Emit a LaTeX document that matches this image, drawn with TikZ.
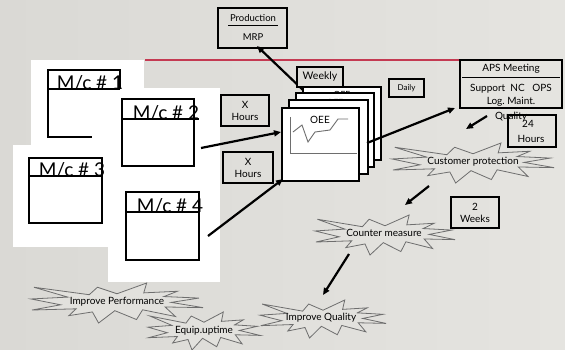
\documentclass[tikz,border=0pt]{standalone}
\usepackage{fontspec}
\setmainfont{Lato}
\usetikzlibrary{arrows.meta}
\definecolor{bgL}{RGB}{218,217,213}
\definecolor{bgR}{RGB}{229,228,224}
\definecolor{redline}{RGB}{196,58,82}
\definecolor{burstfill}{RGB}{226,225,221}
\definecolor{burstline}{RGB}{110,110,110}
\definecolor{graphgray}{RGB}{110,110,110}
\newcommand\fs[1]{\fontsize{#1}{#1}\selectfont}
\newcommand\myburst[3]{%
  \begin{scope}[shift={#1}, xscale=#2, yscale=#3]
  \draw[burst] (0,-0.463) -- (0.345,-1) -- (0.311,-0.507) -- (0.702,-0.587) -- (0.546,-0.323) -- (0.953,-0.247) -- (0.630,-0.030) -- (1.0,0.231) -- (0.559,0.198) -- (0.680,0.675) -- (0.298,0.339) -- (0.227,0.827) -- (-0.025,0.383) -- (-0.214,1.0) -- (-0.286,0.447) -- (-0.559,0.631) -- (-0.475,0.290) -- (-0.988,0.351) -- (-0.655,0.090) -- (-1.0,-0.202) -- (-0.572,-0.295) -- (-0.966,-0.788) -- (-0.323,-0.415) -- (-0.227,-0.788) -- cycle;
  \end{scope}}
\begin{document}
\begin{tikzpicture}[x=1pt,y=-1pt,
  box/.style={draw=black, line width=1.6pt},
  hand/.style={draw=black, line width=1.3pt},
  arr/.style={line width=2.2pt, -{Triangle[length=7pt,width=6pt]}},
  page/.style={draw=black, line width=1.6pt, fill=white},
  burst/.style={draw=burstline, line width=0.8pt, fill=burstfill, line join=miter},
  lbl/.style={inner sep=0pt, font=\fs{9}},
  mc/.style={inner sep=0pt, anchor=base, font=\fs{19}},
  btxt/.style={inner sep=0pt, font=\fs{10}},
]
\useasboundingbox (0,0) rectangle (565,349);
\shade[left color=bgL, right color=bgR] (0,0) rectangle (565,349);

% red rule
\draw[redline, line width=2pt] (145,60) -- (460,60);

% white pasted areas
\fill[white] (31,60) rectangle (144,146);
\fill[white] (108,88) rectangle (220,282);
\fill[white] (13,145) rectangle (110,247);

% machine sketches
\draw[hand] (48,89) -- (48,70) -- (120,70) -- (120,89);
\draw[hand] (48,89) -- (120,89);
\draw[hand] (48,89) -- (48,137) -- (92,137);
\node[mc] (mc1) at (90,89) {M/c \# 1};

\draw[hand] (122,99) rectangle (194,166);
\draw[hand] (122,119) -- (199,119);
\node[mc] (mc2) at (166,119) {M/c \# 2};

\draw[hand] (29,158) rectangle (102,223);
\draw[hand] (29,176) -- (102,176);
\node[mc] (mc3) at (72,176) {M/c \# 3};

\draw[hand] (126,192) rectangle (199,260);
\draw[hand] (126,212) -- (199,212);
\node[mc] (mc4) at (170,212) {M/c \# 4};

% Production / MRP
\draw[box] (218,8) rectangle (287,48);
\draw[line width=0.7pt] (228,25) -- (278,25);
\node[lbl, font=\fs{9.5}] (prod) at (253,18) {Production};
\node[lbl, font=\fs{9.5}] (mrp) at (253,37) {MRP};

% X Hours boxes
\draw[box] (221,95) rectangle (269,126);
\node[lbl, align=center, font=\fs{10}\linespread{1.2}\selectfont] (xh1) at (245,111) {X\\Hours};
\draw[box] (223,152) rectangle (273,183);
\node[lbl, align=center, font=\fs{10}\linespread{1.2}\selectfont] (xh2) at (248,168) {X\\Hours};

% named connector ends
\coordinate (t1) at (303,90);
\coordinate (h1) at (257,46);
\coordinate (t2) at (201,148);
\coordinate (h2) at (281,132);
\coordinate (t3) at (208,236);
\coordinate (h3) at (283,179);
\coordinate (t4) at (367,143);
\coordinate (h4) at (455,108);
\coordinate (t5) at (487,116);
\coordinate (h5) at (466,129);
\coordinate (t6) at (429,186);
\coordinate (h6) at (405,205);
\coordinate (t7) at (349,254);
\coordinate (h7) at (323,295);

\draw[arr] (t1) -- (h1);
\draw[arr] (t2) -- (h2);
\draw[arr] (t3) -- (h3);

% OEE stack
\draw[page] (303,87) rectangle (381,160);
\node[lbl, font=\fs{8.5}] (oeeA) at (342,94) {OEE};
\draw[page] (296,93) rectangle (374,167);
\node[lbl, font=\fs{8.5}] (oeeB) at (335,102) {OEE};
\draw[page] (289,100) rectangle (368,174);
\draw[page] (282,108) rectangle (359,181);
\node[lbl, font=\fs{10}] (oee) at (320,120) {OEE};
\draw[graphgray, line width=0.9pt] (290,117) -- (290,153) -- (357,153);
\draw[graphgray, line width=0.9pt] (293,132) -- (302,125) -- (308,142) -- (315,132) -- (330,130) -- (338,119) -- (348,119);

% Weekly
\draw[box, fill=bgL!60!bgR] (297,67) rectangle (343,87);
\node[lbl, font=\fs{10.5}] (weekly) at (320,77) {Weekly};

% Daily
\draw[box] (389,79) rectangle (424,97);
\node[lbl, font=\fs{8}] (daily) at (406.5,88) {Daily};

% APS meeting
\draw[box, fill=bgR] (460,60) rectangle (562,108);
\draw[line width=0.7pt] (462,77) -- (560,77);
\node[lbl, font=\fs{10}] (aps) at (511,69) {APS Meeting};
\node[lbl, font=\fs{10}] (sup) at (511,89) {Support\ \ NC\ \ \ OPS};
\node[lbl, font=\fs{10}] (log) at (511,102) {Log.\ Maint.};
\node[lbl, font=\fs{10}] (qual) at (511,117) {Quality};

% 24 hours
\draw[box] (508,115) rectangle (556,147);
\node[lbl, font=\fs{10}] (h24a) at (528,124) {24};
\node[lbl, font=\fs{10}] (h24b) at (531,139) {Hours};

% 2 weeks
\draw[box] (451,197) rectangle (499,228);
\node[lbl, align=center, font=\fs{10}\linespread{1.2}\selectfont] (wk2) at (475,213) {2\\Weeks};

\draw[arr] (t4) -- (h4);

% bursts
\myburst{(473,163)}{81}{20}
\node[btxt] (cp) at (473,162) {Customer protection};
\myburst{(385,235)}{70}{20}
\node[btxt] (cm) at (384,233) {Counter measure};
\myburst{(117,303)}{86}{20}
\node[btxt] (ip) at (117,302) {Improve Performance};
\myburst{(323,319)}{63}{19}
\node[btxt] (iq) at (321,318) {Improve Quality};
\myburst{(204,331)}{56}{19}
\node[btxt] (eu) at (204,331) {Equip.uptime};

\draw[arr] (t5) -- (h5);
\draw[arr] (t6) -- (h6);
\draw[arr] (t7) -- (h7);
\end{tikzpicture}
\end{document}
